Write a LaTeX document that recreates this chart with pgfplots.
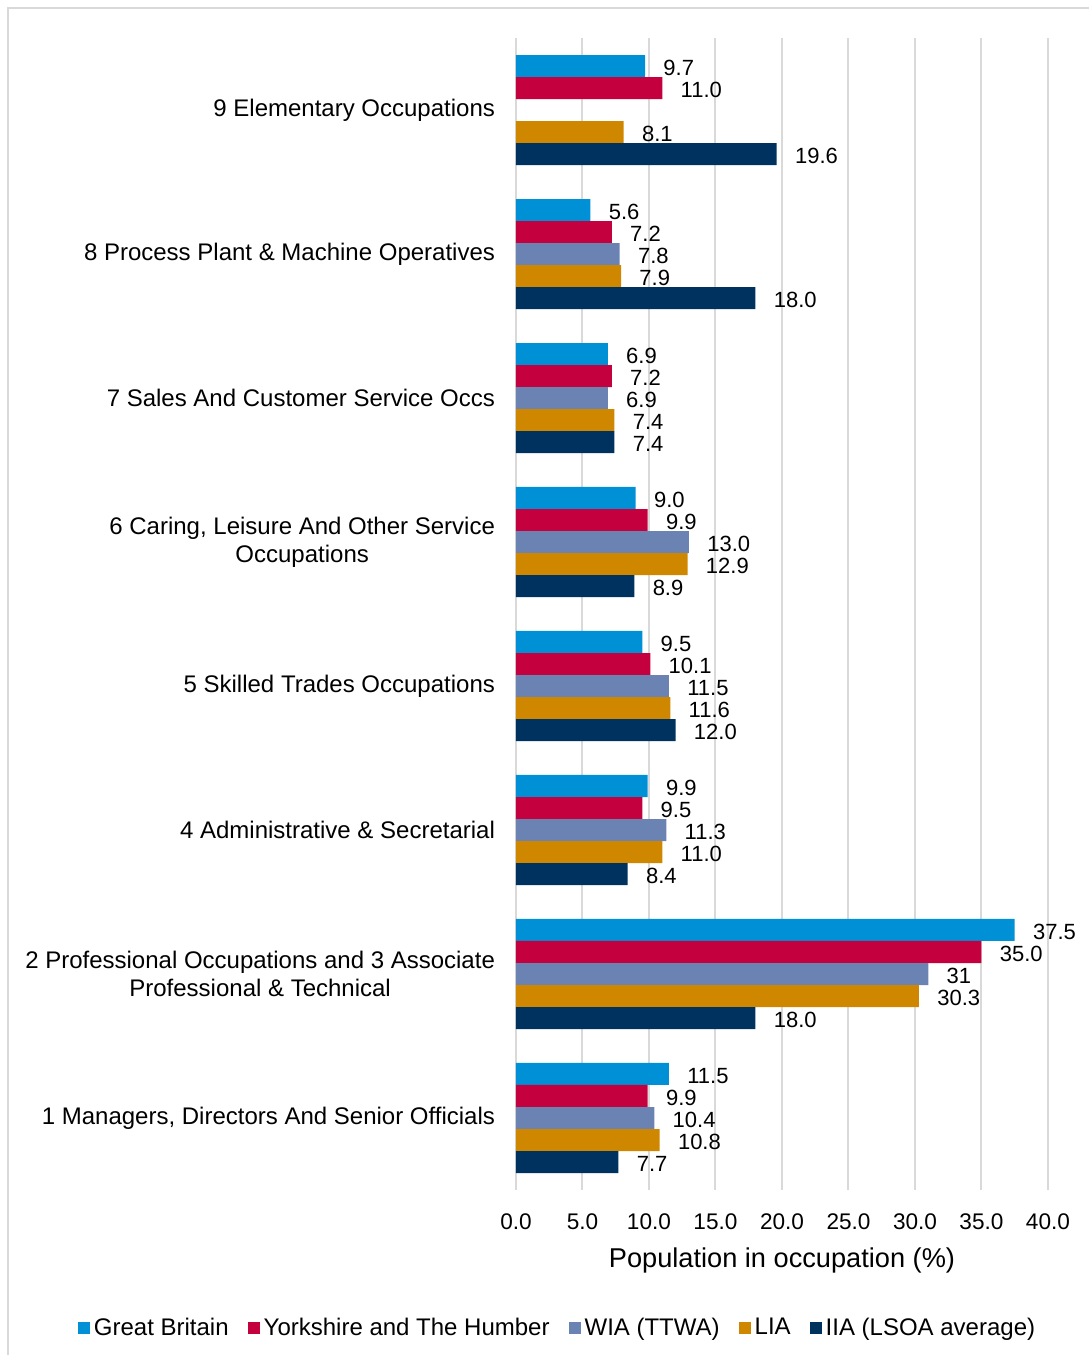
\documentclass[border=0pt]{standalone}
\usepackage{pgfplots}
\pgfplotsset{compat=1.18}
\usepackage{fontspec}
\setmainfont{Liberation Sans}
\definecolor{cGB}{HTML}{0090D5}
\definecolor{cYH}{HTML}{C4003F}
\definecolor{cWIA}{HTML}{6B83B3}
\definecolor{cLIA}{HTML}{D08700}
\definecolor{cIIA}{HTML}{00325F}
\definecolor{gridgray}{HTML}{D9D9D9}

\begin{document}
\begin{tikzpicture}
% page = 1089 x 1355 px at 0.5pt per px, axis SW corner at (0,0)
\useasboundingbox (-258pt,-82.5pt) rectangle (286.5pt,595pt);
\draw[gridgray, line width=1pt] (-254pt,-82.5pt) -- (-254pt,591pt) -- (286.5pt,591pt);
\begin{axis}[
  at={(0,0)}, anchor=south west,
  scale only axis, width=266pt, height=576pt,
  xbar, bar width=0.1528,
  xmin=0, xmax=40, ymin=-0.5, ymax=7.5,
  xtick={0,5,...,40},
  xticklabel={\pgfmathprintnumber[fixed,fixed zerofill,precision=1]{\tick}},
  ytick={0,...,7},
  yticklabels={
    {1 Managers, Directors And Senior Officials},
    {2 Professional Occupations and 3 Associate\\Professional \& Technical},
    {4 Administrative \& Secretarial},
    {5 Skilled Trades Occupations},
    {6 Caring, Leisure And Other Service\\Occupations},
    {7 Sales And Customer Service Occs},
    {8 Process Plant \& Machine Operatives},
    {9 Elementary Occupations}},
  axis line style={draw=none},
  xmajorgrids, grid style={gridgray, line width=1pt},
  major tick length=0pt,
  /pgf/number format/assume math mode=true,
  xticklabel style={font=\fontsize{11.3}{13}\selectfont, yshift=-8.3pt},
  yticklabel style={font=\fontsize{12}{14}\selectfont, align=center, anchor=east, xshift=-7pt},
  xlabel={Population in occupation (\%)},
  xlabel style={font=\fontsize{13.6}{15}\selectfont, at={(axis description cs:0.5,-0.061)}, anchor=center},
  point meta=explicit symbolic,
  nodes near coords,
  nodes near coords style={font=\fontsize{11}{13}\selectfont, inner sep=0pt, anchor=west, xshift=9pt, yshift=-1pt, text=black},
  legend columns=5,
  legend style={at={(0.08,-0.12)}, anchor=center, draw=none, fill=none,
    font=\fontsize{12}{14}\selectfont,
    /tikz/every even column/.append style={column sep=7.5pt}},
  legend image code/.code={\fill[#1,draw=none] (0pt,-3pt) rectangle (6pt,3pt);},
]
\addplot[fill=cGB, draw=none, bar shift=0.3056] coordinates {
  (11.5,0) [11.5] (37.5,1) [37.5] (9.9,2) [9.9] (9.5,3) [9.5]
  (9.0,4) [9.0] (6.9,5) [6.9] (5.6,6) [5.6] (9.7,7) [9.7]};
\addplot[fill=cYH, draw=none, bar shift=0.1528] coordinates {
  (9.9,0) [9.9] (35.0,1) [35.0] (9.5,2) [9.5] (10.1,3) [10.1]
  (9.9,4) [9.9] (7.2,5) [7.2] (7.2,6) [7.2] (11.0,7) [11.0]};
\addplot[fill=cWIA, draw=none, bar shift=0] coordinates {
  (10.4,0) [10.4] (31,1) [31] (11.3,2) [11.3] (11.5,3) [11.5]
  (13.0,4) [13.0] (6.9,5) [6.9] (7.8,6) [7.8]};
\addplot[fill=cLIA, draw=none, bar shift=-0.1528] coordinates {
  (10.8,0) [10.8] (30.3,1) [30.3] (11.0,2) [11.0] (11.6,3) [11.6]
  (12.9,4) [12.9] (7.4,5) [7.4] (7.9,6) [7.9] (8.1,7) [8.1]};
\addplot[fill=cIIA, draw=none, bar shift=-0.3056] coordinates {
  (7.7,0) [7.7] (18.0,1) [18.0] (8.4,2) [8.4] (12.0,3) [12.0]
  (8.9,4) [8.9] (7.4,5) [7.4] (18.0,6) [18.0] (19.6,7) [19.6]};
\legend{Great Britain, Yorkshire and The Humber, WIA (TTWA), LIA, IIA (LSOA average)}
\end{axis}
\end{tikzpicture}
\end{document}
